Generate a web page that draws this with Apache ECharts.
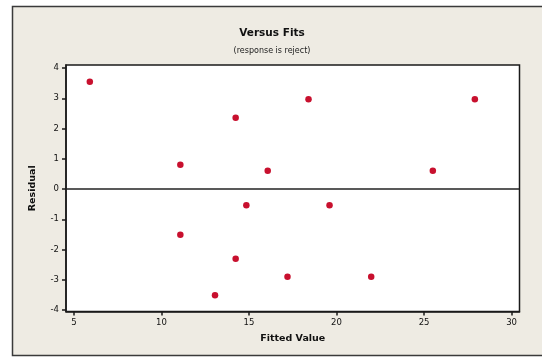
<!DOCTYPE html>
<html>
<head>
<meta charset="utf-8">
<script src="https://cdn.jsdelivr.net/npm/echarts@6/dist/echarts.min.js"></script>
<style>
  html, body { margin: 0; padding: 0; background: #ffffff; }
  #chart { width: 542px; height: 360px; }
</style>
</head>
<body>
<div id="chart"></div>
<script>
// Residuals plotted against fitted values
const fittedValues = [5.91, 11.08, 11.08, 14.24, 14.24, 14.85, 13.06, 16.07, 17.20, 18.40, 19.60, 21.98, 25.50, 27.90];
const residuals    = [3.55, 0.80, -1.51, 2.36, -2.31, -0.54, -3.51, 0.60, -2.90, 2.97, -0.54, -2.90, 0.60, 2.97];
const xTicks = [5, 10, 15, 20, 25, 30];
const yTicks = [-4, -3, -2, -1, 0, 1, 2, 3, 4];

const FONT = '"DejaVu Sans", Tahoma, sans-serif';
const points = fittedValues.map((x, i) => [x, residuals[i]]);

const chart = echarts.init(document.getElementById('chart'), null, { renderer: 'canvas' });
chart.setOption({
  animation: false,
  backgroundColor: '#ffffff',
  graphic: [{
    type: 'rect',
    z: -10,
    shape: { x: 12.5, y: 6.5, width: 540, height: 349 },
    style: { fill: '#eeebe3', stroke: '#3a3a3a', lineWidth: 1.5 }
  }],
  title: [
    {
      text: 'Versus Fits',
      left: 267, top: 23, textAlign: 'center',
      textStyle: { fontFamily: FONT, fontSize: 10.5, fontWeight: 'bold', color: '#111' }
    },
    {
      text: '(response is reject)',
      left: 267, top: 42, textAlign: 'center',
      textStyle: { fontFamily: FONT, fontSize: 8, fontWeight: 'normal', color: '#1a1a1a' }
    }
  ],
  grid: {
    left: 66, right: 22.5, top: 65, bottom: 48.5,
    show: true, backgroundColor: '#ffffff', borderColor: '#1a1a1a', borderWidth: 1.5
  },
  xAxis: {
    type: 'value', min: 4.55, max: 30.45,
    name: 'Fitted Value', nameLocation: 'middle', nameGap: 22,
    nameTextStyle: { fontFamily: FONT, fontSize: 9.5, fontWeight: 'bold', color: '#111' },
    axisLine: { show: true, onZero: false, lineStyle: { color: '#1a1a1a', width: 1.5 } },
    axisTick: { show: true, inside: false, length: 4, customValues: xTicks, lineStyle: { color: '#1a1a1a', width: 1.5 } },
    axisLabel: { customValues: xTicks, margin: 7, fontFamily: FONT, fontSize: 8.5, color: '#111',
                 showMinLabel: true, showMaxLabel: true },
    splitLine: { show: false }
  },
  yAxis: {
    type: 'value', min: -4.05, max: 4.1,
    name: 'Residual', nameLocation: 'middle', nameGap: 28, nameRotate: 90,
    nameTextStyle: { fontFamily: FONT, fontSize: 9.5, fontWeight: 'bold', color: '#111' },
    axisLine: { show: true, onZero: false, lineStyle: { color: '#1a1a1a', width: 1.5 } },
    axisTick: { show: true, inside: false, length: 4, customValues: yTicks, lineStyle: { color: '#1a1a1a', width: 1.5 } },
    axisLabel: { customValues: yTicks, margin: 7, fontFamily: FONT, fontSize: 8.5, color: '#111',
                 showMinLabel: true, showMaxLabel: true },
    splitLine: { show: false }
  },
  series: [{
    type: 'scatter',
    data: points,
    symbol: 'circle',
    symbolSize: 6.5,
    itemStyle: { color: '#c8102e', opacity: 1 },
    markLine: {
      silent: true,
      symbol: 'none',
      label: { show: false },
      lineStyle: { color: '#222222', width: 1.5, type: 'solid' },
      data: [{ yAxis: 0 }]
    }
  }]
});
</script>
</body>
</html>
